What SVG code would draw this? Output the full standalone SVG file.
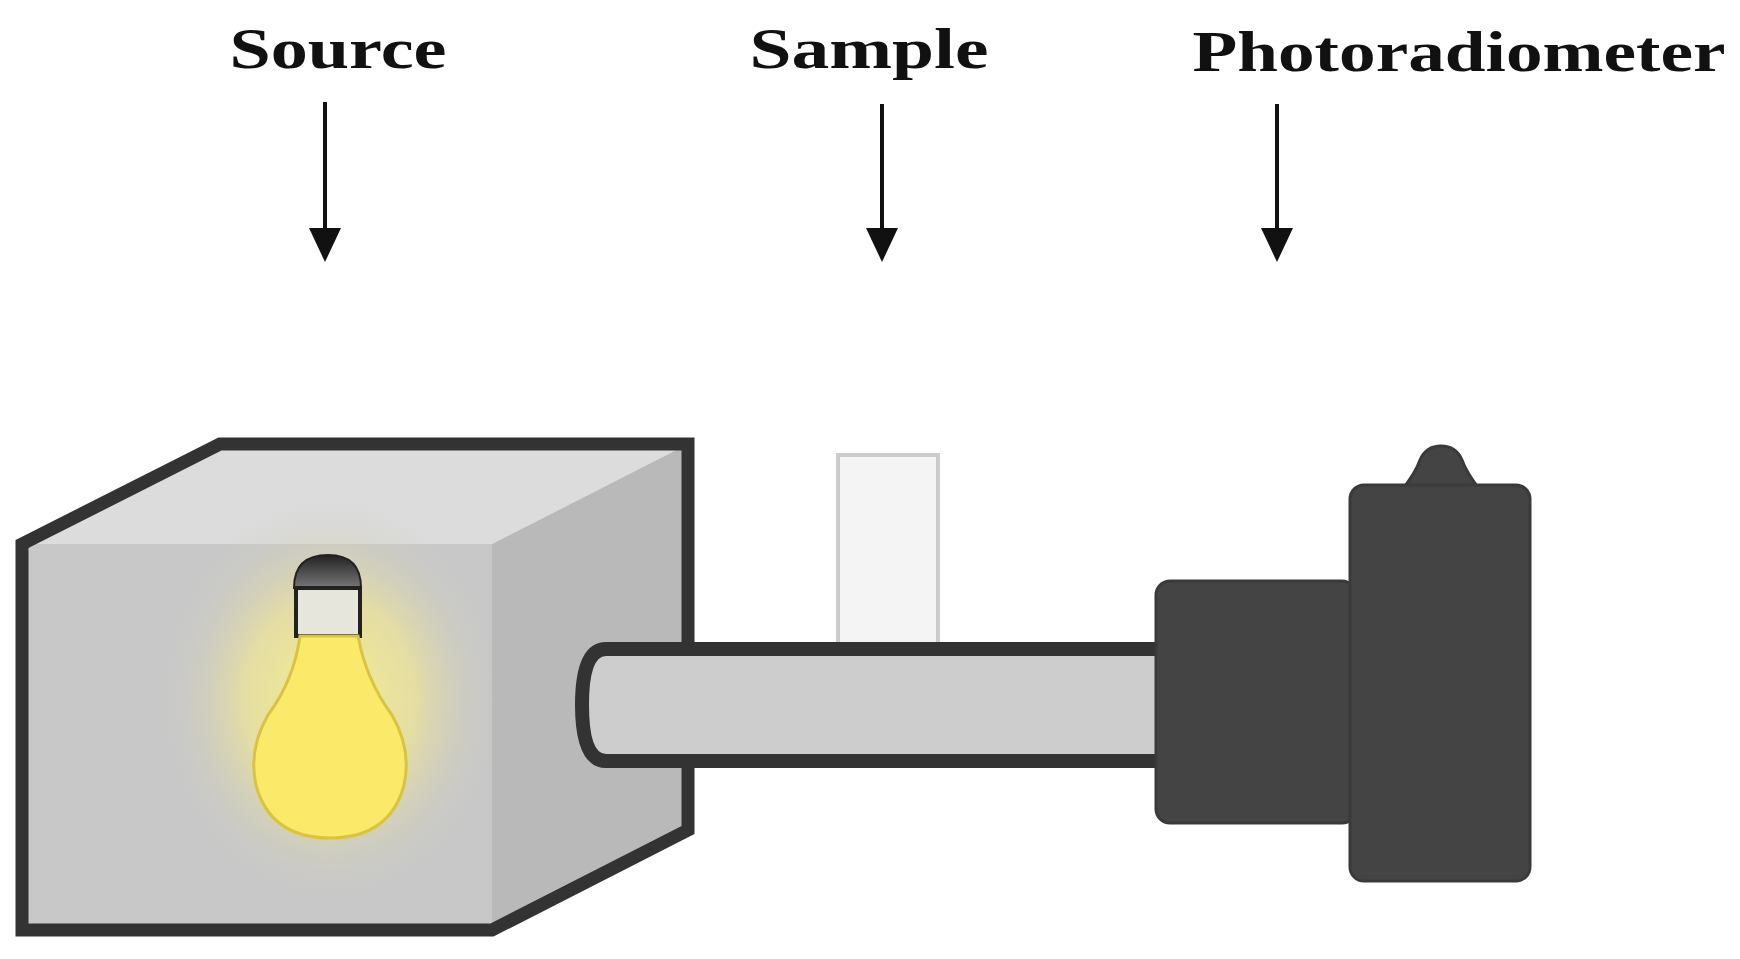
<svg xmlns="http://www.w3.org/2000/svg" width="1740" height="959" viewBox="0 0 1740 959">
<defs>
<style>
.lbl{font-family:"Liberation Serif",serif;font-weight:bold;font-size:58px;fill:#111;text-anchor:middle}
.arr{stroke:#111;stroke-width:4;fill:none}
.dark{fill:#444;stroke:#3a3a3a;stroke-width:3}
</style>
<radialGradient id="glow" cx="0.5" cy="0.5" r="0.5">
<stop offset="0" stop-color="#f6ef8a"/>
<stop offset="0.5" stop-color="#ece39a" stop-opacity="0.8"/>
<stop offset="1" stop-color="#c8c8c8" stop-opacity="0"/>
</radialGradient>
<linearGradient id="cap" x1="0" y1="0" x2="0" y2="1">
<stop offset="0" stop-color="#222"/>
<stop offset="1" stop-color="#777"/>
</linearGradient>
</defs>
<rect width="1740" height="959" fill="#fff"/>
<g id="labels">
<text class="lbl" x="338" y="68" textLength="217" lengthAdjust="spacingAndGlyphs">Source</text>
<text class="lbl" x="869" y="68" textLength="239" lengthAdjust="spacingAndGlyphs">Sample</text>
<text class="lbl" x="1459" y="71" textLength="533" lengthAdjust="spacingAndGlyphs">Photoradiometer</text>
</g>
<g id="connectors">
<path class="arr" d="M325,102 V230"/><path d="M309,228 L341,228 L325,262 z" fill="#111"/>
<path class="arr" d="M882,104 V230"/><path d="M866,228 L898,228 L882,262 z" fill="#111"/>
<path class="arr" d="M1277,104 V230"/><path d="M1261,228 L1293,228 L1277,262 z" fill="#111"/>
</g>
<g id="sample">
<rect x="838" y="455" width="100" height="190" fill="#f4f4f4" stroke="#ccc" stroke-width="4"/>
</g>
<g id="source">
<polygon points="22,544 220,444 688,444 492,544" fill="#dcdcdc"/>
<polygon points="492,544 688,444 688,830 492,930" fill="#b9b9b9"/>
<rect x="22" y="544" width="470" height="386" fill="#c8c8c8"/>
<ellipse cx="330" cy="700" rx="170" ry="200" fill="url(#glow)"/>
<polygon points="22,544 220,444 688,444 688,830 492,930 22,930" fill="none" stroke="#333" stroke-width="13" stroke-linejoin="miter"/>
<path d="M294,588 Q294,555 328,555 Q361,555 361,588 z" fill="url(#cap)" stroke="#222" stroke-width="2"/>
<rect x="296" y="588" width="64" height="48" fill="#e6e6dc" stroke="#222" stroke-width="4"/>
<path d="M300,636 L358,636 Q366,680 392,715 Q412,750 404,785 Q390,838 330,838 Q270,838 256,785 Q248,750 268,715 Q294,680 300,636 z" fill="#fbe96a" stroke="#d8c441" stroke-width="3"/>
</g>
<g id="tube">
<path d="M606,649 H1166 V761 H606 Q582,761 582,705 Q582,649 606,649 z" fill="#cdcdcd" stroke="#333" stroke-width="14"/>
</g>
<g id="photoradiometer">
<rect class="dark" x="1156" y="581" width="200" height="242" rx="14"/>
<path class="dark" d="M1402,490 Q1416,472 1420,460 Q1426,446 1441,446 Q1456,446 1462,460 Q1466,472 1480,490 Z"/>
<rect class="dark" x="1350" y="485" width="180" height="396" rx="14"/>
</g>
</svg>
